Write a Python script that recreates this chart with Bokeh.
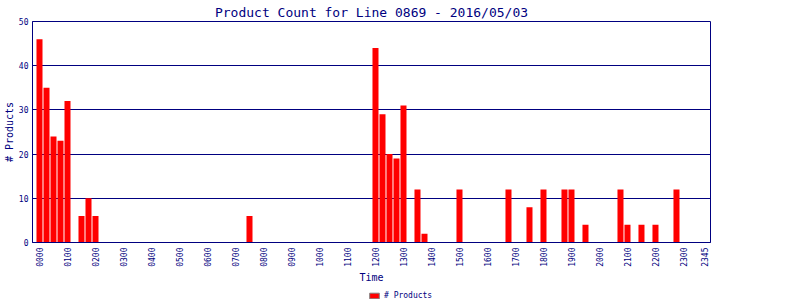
import math
from bokeh.plotting import figure
from bokeh.layouts import column
from bokeh.models import Range1d, FixedTicker, Legend, LegendItem, ColumnDataSource
from bokeh.embed import file_html
from bokeh.resources import INLINE

# ---- data ----
times = ["0000", "0015", "0030", "0045", "0100", "0130", "0145", "0200", "0730",
         "1200", "1215", "1230", "1245", "1300", "1330", "1345", "1500", "1645",
         "1730", "1800", "1845", "1900", "1930", "2045", "2100", "2130", "2200", "2245"]
counts = [46, 35, 24, 23, 32, 6, 10, 6, 6,
          44, 29, 20, 19, 31, 12, 2, 12, 12,
          8, 12, 12, 12, 4, 12, 4, 4, 4, 12]
tick_labels = ["0000", "0100", "0200", "0300", "0400", "0500", "0600", "0700",
               "0800", "0900", "1000", "1100", "1200", "1300", "1400", "1500",
               "1600", "1700", "1800", "1900", "2000", "2100", "2200", "2300", "2345"]
y_ticks = [0, 10, 20, 30, 40, 50]
title_text = "Product Count for Line 0869 - 2016/05/03"
series_name = "# Products"


def slot(t):
    return (int(t[:2]) * 60 + int(t[2:])) // 15


NAVY = "#000080"
FONT = "DejaVu Sans Mono"

xs = [slot(t) for t in times]
tick_pos = [slot(t) for t in tick_labels]

p = figure(width=800, height=288, output_backend="svg", toolbar_location=None,
           x_range=Range1d(-1, 95.86), y_range=Range1d(0, 50),
           min_border_left=32, min_border_right=90, min_border_top=20,
           min_border_bottom=46)

p.title.text = title_text
p.title.text_font = FONT
p.title.text_font_size = "13px"
p.title.text_font_style = "normal"
p.title.text_color = NAVY
p.title.align = "center"
p.title.standoff = 4
p.title.offset = 0

src = ColumnDataSource(dict(x=xs, top=counts))
p.vbar(x="x", top="top", width=0.86, bottom=0, source=src,
       fill_color="#FF0000", line_color=None)

p.outline_line_color = NAVY
p.outline_line_width = 1
p.background_fill_color = "white"
p.border_fill_color = "white"

p.xgrid.visible = False
p.ygrid.grid_line_color = NAVY
p.ygrid.grid_line_width = 1
p.ygrid.ticker = FixedTicker(ticks=y_ticks)

xa = p.xaxis[0]
xa.ticker = FixedTicker(ticks=tick_pos)
xa.major_label_overrides = {pos: lab for pos, lab in zip(tick_pos, tick_labels)}
xa.major_label_orientation = math.pi / 2
xa.major_label_text_font = FONT
xa.major_label_text_font_size = "8px"
xa.major_label_text_color = NAVY
xa.major_label_standoff = 5
xa.major_tick_out = 0
xa.major_tick_in = 0
xa.minor_tick_out = 0
xa.minor_tick_in = 0
xa.axis_line_color = NAVY
xa.axis_label = "Time"
xa.axis_label_text_font = FONT
xa.axis_label_text_font_size = "10px"
xa.axis_label_text_font_style = "normal"
xa.axis_label_text_color = NAVY
xa.axis_label_standoff = 2

ya = p.yaxis[0]
ya.ticker = FixedTicker(ticks=y_ticks)
ya.major_label_text_font = FONT
ya.major_label_text_font_size = "8px"
ya.major_label_text_color = NAVY
ya.major_label_standoff = 4
ya.major_tick_out = 0
ya.major_tick_in = 0
ya.minor_tick_out = 0
ya.minor_tick_in = 0
ya.axis_line_color = NAVY
ya.axis_label = series_name
ya.axis_label_text_font = FONT
ya.axis_label_text_font_size = "10px"
ya.axis_label_text_font_style = "normal"
ya.axis_label_text_color = NAVY
ya.axis_label_standoff = 1

# legend strip below the chart (dummy off-range bar only feeds the legend swatch)
lp = figure(width=800, height=12, output_backend="svg", toolbar_location=None,
            x_range=Range1d(0, 1), y_range=Range1d(0, 1),
            x_axis_location=None, y_axis_location=None, min_border=0)
lp.grid.visible = False
lp.outline_line_color = None
lp.background_fill_color = "white"
lp.border_fill_color = "white"
leg_src = ColumnDataSource(dict(x=[10], top=[0]))
leg_r = lp.vbar(x="x", top="top", width=0.5, source=leg_src,
                fill_color="#FF0000", line_color="#808080", line_width=1)
legend = Legend(items=[LegendItem(label=series_name, renderers=[leg_r])],
                orientation="horizontal", location=(336, 0),
                margin=0, padding=1, spacing=0,
                glyph_width=12, glyph_height=7, label_height=8,
                label_standoff=4,
                label_text_font=FONT, label_text_font_size="8px",
                label_text_color=NAVY,
                border_line_color=None, background_fill_alpha=0)
lp.add_layout(legend, "center")

layout = column(p, lp, spacing=0)
open("out.html", "w").write(file_html(layout, INLINE))
